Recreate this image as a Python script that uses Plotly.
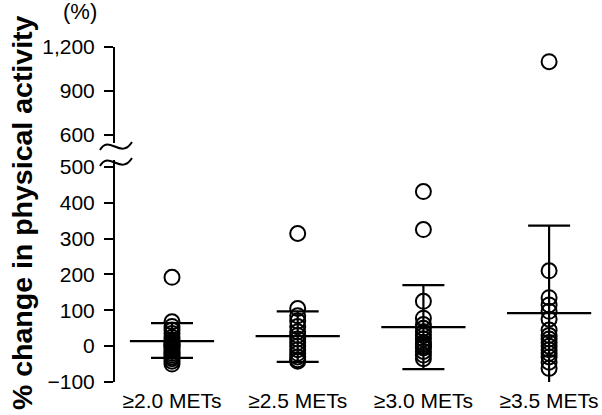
import plotly.graph_objects as go

# ---- data ----
categories = ["≥2.0 METs", "≥2.5 METs", "≥3.0 METs", "≥3.5 METs"]
g20 = [192, 68, 55, 45, 35, 25, 18, 12, 8, 5, 2, 0, -5, -10, -15, -20, -25, -30, -35, -42, -50]
g25 = [314, 105, 85, 70, 55, 40, 30, 20, 10, 0, -10, -20, -30, -38, -42]
g30 = [431, 325, 125, 78, 60, 50, 40, 30, 20, 10, 5, 0, -5, -15, -25, -35]
g35 = [1100, 210, 135, 115, 97, 75, 45, 30, 20, 10, 0, -10, -20, -30, -45, -62]
groups = [g20, g25, g30, g35]
means = [14, 28, 53, 92]
upper = [64, 97, 170, 336]
lower = [-33, -44, -64, -103]

low_ticks = [-100, 0, 100, 200, 300, 400, 500]
low_text = ["−100", "0", "100", "200", "300", "400", "500"]
high_ticks = [600, 900, 1200]
high_text = ["600", "900", "1,200"]

LOW_RANGE = [-100, 519]
HIGH_RANGE = [545, 1200]

# ---- layout geometry ----
W, H = 602, 415
ML, MR, MT, MB = 115, 2, 47, 33
PW, PH = W - ML - MR, H - MT - MB
FONT = "Arial, Liberation Sans, sans-serif"


def px(x):
    return (x - ML) / PW


def py(y):
    return (H - MB - y) / PH


fig = go.Figure()
for i, vals in enumerate(groups):
    lo = [v for v in vals if v <= LOW_RANGE[1]]
    hi = [v for v in vals if v >= HIGH_RANGE[0]]
    fig.add_trace(go.Scatter(x=[i] * len(lo), y=lo, mode="markers", xaxis="x", yaxis="y",
                             marker=dict(symbol="circle-open", size=15, color="black",
                                         line=dict(width=2, color="black")),
                             showlegend=False, hoverinfo="y"))
    if hi:
        fig.add_trace(go.Scatter(x=[i] * len(hi), y=hi, mode="markers", xaxis="x2", yaxis="y2",
                                 marker=dict(symbol="circle-open", size=15, color="black",
                                             line=dict(width=2, color="black")),
                                 showlegend=False, hoverinfo="y"))
    # mean line
    fig.add_trace(go.Scatter(x=[i - 0.335, i + 0.335], y=[means[i], means[i]], mode="lines",
                             line=dict(color="black", width=2.2), xaxis="x", yaxis="y",
                             showlegend=False, hoverinfo="skip"))
    # error bar
    fig.add_trace(go.Scatter(x=[i], y=[means[i]], mode="markers", marker=dict(size=0.1, color="black"),
                             error_y=dict(type="data", symmetric=False, array=[upper[i] - means[i]],
                                          arrayminus=[means[i] - lower[i]], width=21, thickness=2.2,
                                          color="black"),
                             xaxis="x", yaxis="y", showlegend=False, hoverinfo="skip"))

low_top = py(160)
high_bot = py(143)

fig.update_layout(
    width=W, height=H,
    margin=dict(l=ML, r=MR, t=MT, b=MB, autoexpand=False),
    paper_bgcolor="white", plot_bgcolor="white",
    font=dict(family=FONT, color="black"),
    xaxis=dict(domain=[0, 1], range=[-0.4535, -0.4535 + PW / 125.7], anchor="y",
               tickvals=[0, 1, 2, 3], ticktext=categories, showline=False, showgrid=False,
               zeroline=False, ticks="", tickfont=dict(size=21, family=FONT), automargin=False,
               ticklabelstandoff=4),
    xaxis2=dict(domain=[0, 1], matches="x", anchor="y2", visible=False),
    yaxis=dict(domain=[0, low_top], range=LOW_RANGE, tickvals=low_ticks, ticktext=low_text,
               showline=True, linecolor="black", linewidth=2, ticks="outside", ticklen=9,
               tickwidth=2, tickcolor="black", showgrid=False, zeroline=False,
               ticklabelstandoff=5, automargin=False,
               tickfont=dict(size=21, family=FONT)),
    yaxis2=dict(domain=[high_bot, 1], range=HIGH_RANGE, tickvals=high_ticks, ticktext=high_text,
                showline=True, linecolor="black", linewidth=2, ticks="outside", ticklen=9,
                tickwidth=2, tickcolor="black", showgrid=False, zeroline=False,
                ticklabelstandoff=5, automargin=False,
                tickfont=dict(size=21, family=FONT), anchor="x2"),
)

# axis title and unit
fig.add_annotation(text="<b>% change in physical activity</b>", textangle=-90,
                   xref="paper", yref="paper", x=px(22), y=py(213), showarrow=False,
                   font=dict(size=28.5, family=FONT), xanchor="center", yanchor="middle")
fig.add_annotation(text="(%)", xref="paper", yref="paper", x=px(80), y=py(12), showarrow=False,
                   font=dict(size=22, family=FONT), xanchor="center", yanchor="middle")


# axis-break marks
def wave(cy):
    x0, x1 = 100, 132
    return (f"M {px(x0)},{py(cy + 5)} C {px(x0 + 9)},{py(cy - 11)} "
            f"{px(x0 + 21)},{py(cy + 15)} {px(x1)},{py(cy - 3)}")


for cy in (145, 161):
    fig.add_shape(type="path", path=wave(cy), xref="paper", yref="paper",
                  line=dict(color="black", width=2))

fig.write_html("out.html", config={"displayModeBar": False},
               post_script="document.body.style.margin='0';")
